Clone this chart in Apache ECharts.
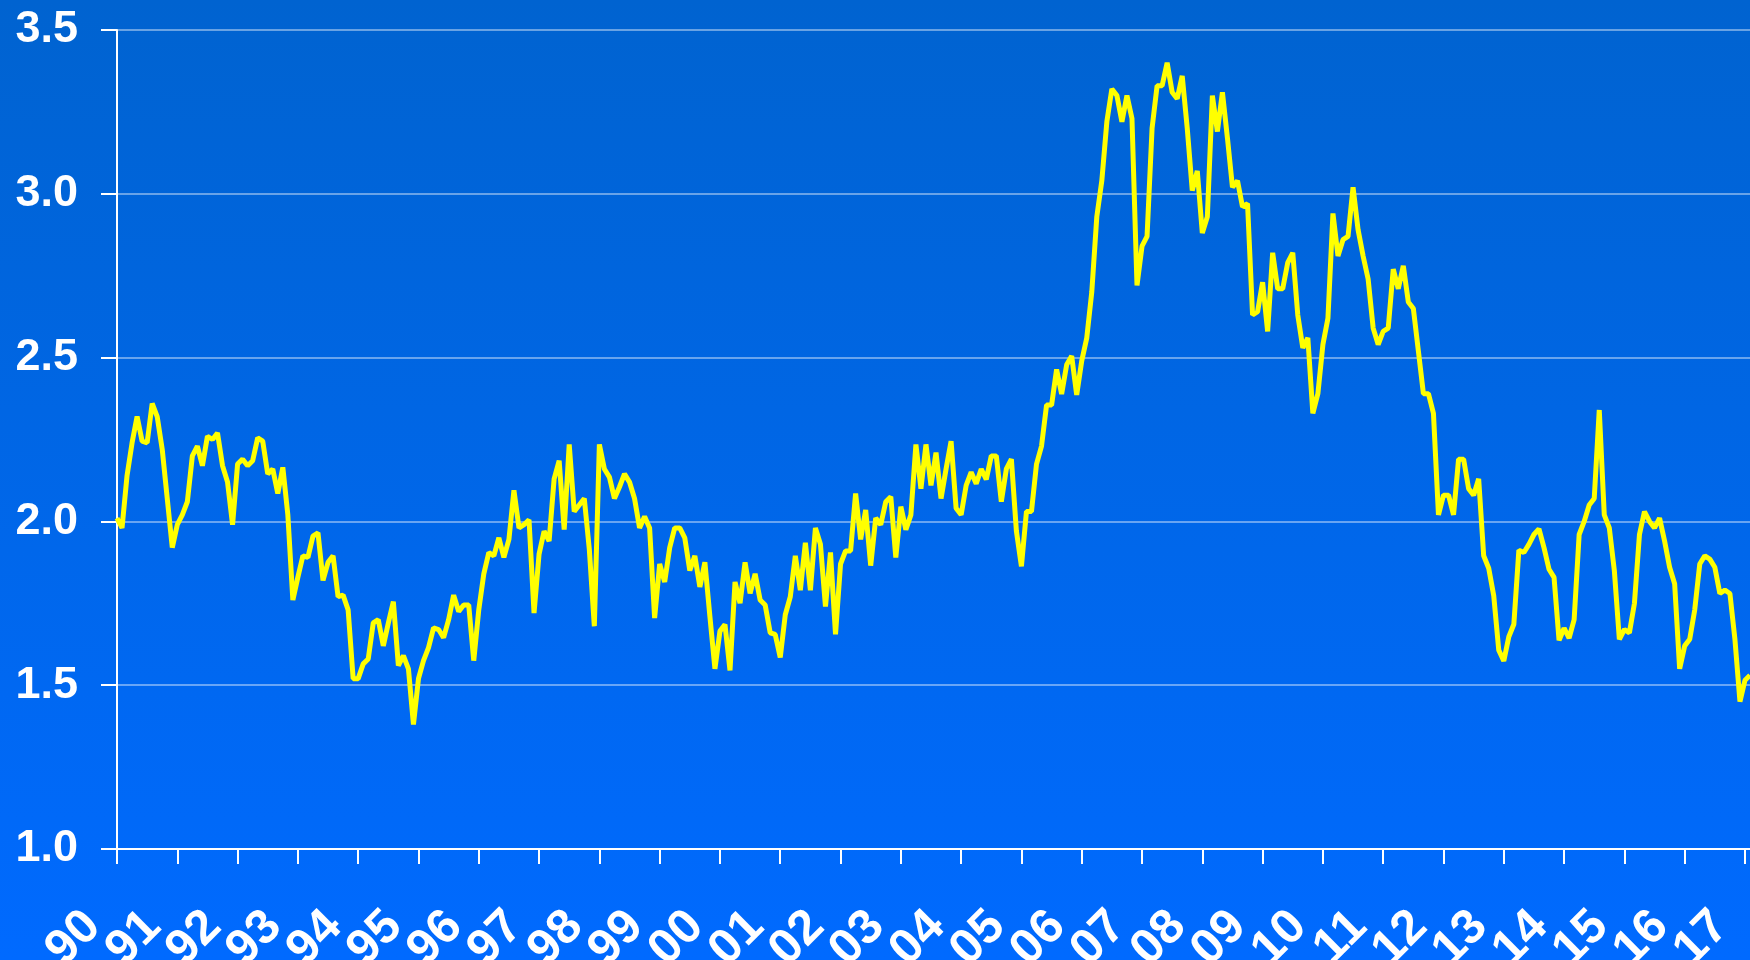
<!DOCTYPE html>
<html>
<head>
<meta charset="utf-8">
<script src="https://cdn.jsdelivr.net/npm/echarts@6/dist/echarts.min.js"></script>
<style>
html,body{margin:0;padding:0;width:1750px;height:960px;overflow:hidden;}
#chart{width:1750px;height:960px;}
</style>
</head>
<body>
<div id="chart"></div>
<script>
// Year tick labels (one per January)
const yearLabels = ['90','91','92','93','94','95','96','97','98','99','00','01','02','03','04','05','06','07','08','09','10','11','12','13','14','15','16','17'];

// Monthly values, Jan 1990 onwards
const values1990s = [
  2.01, 1.98, 2.14, 2.24, 2.32, 2.245, 2.24, 2.36, 2.32, 2.22, 2.07, 1.92,
  1.99, 2.02, 2.06, 2.20, 2.23, 2.17, 2.26, 2.25, 2.27, 2.17, 2.12, 1.99,
  2.175, 2.19, 2.17, 2.185, 2.255, 2.245, 2.145, 2.16, 2.085, 2.165, 2.02, 1.76,
  1.83, 1.895, 1.89, 1.955, 1.965, 1.82, 1.875, 1.895, 1.77, 1.775, 1.73, 1.52,
  1.52, 1.565, 1.58, 1.69, 1.70, 1.62, 1.69, 1.755, 1.56, 1.59, 1.55, 1.38,
  1.52, 1.575, 1.615, 1.675, 1.67, 1.645, 1.70, 1.775, 1.725, 1.745, 1.745, 1.575,
  1.73, 1.84, 1.905, 1.895, 1.95, 1.89, 1.945, 2.095, 1.98, 1.99, 2.005, 1.72,
  1.90, 1.97, 1.94, 2.13, 2.185, 1.975, 2.235, 2.03, 2.05, 2.07, 1.915, 1.68,
  2.235, 2.16, 2.135, 2.07, 2.105, 2.145, 2.12, 2.07, 1.98, 2.015, 1.98, 1.705,
  1.87, 1.815, 1.92, 1.98, 1.98, 1.95, 1.85, 1.895, 1.80, 1.875, 1.71, 1.55
];
const values2000s = [
  1.665, 1.685, 1.545, 1.815, 1.75, 1.875, 1.78, 1.84, 1.76, 1.745, 1.66, 1.655,
  1.585, 1.715, 1.77, 1.895, 1.79, 1.935, 1.79, 1.98, 1.93, 1.74, 1.905, 1.655,
  1.87, 1.91, 1.91, 2.085, 1.945, 2.035, 1.865, 2.01, 1.99, 2.06, 2.075, 1.89,
  2.045, 1.975, 2.02, 2.235, 2.10, 2.235, 2.11, 2.21, 2.07, 2.16, 2.245, 2.04,
  2.02, 2.11, 2.15, 2.115, 2.16, 2.128, 2.20, 2.20, 2.06, 2.16, 2.19, 1.97,
  1.863, 2.03, 2.03, 2.175, 2.23, 2.355, 2.355, 2.464, 2.389, 2.478, 2.505, 2.386,
  2.49, 2.56, 2.70, 2.93, 3.04, 3.22, 3.32, 3.30, 3.22, 3.30, 3.23, 2.72,
  2.84, 2.87, 3.20, 3.33, 3.33, 3.40, 3.31, 3.29, 3.36, 3.20, 3.01, 3.07,
  2.88, 2.93, 3.30, 3.19, 3.31, 3.17, 3.02, 3.04, 2.96, 2.97, 2.63, 2.64,
  2.73, 2.58, 2.82, 2.71, 2.71, 2.79, 2.82, 2.63, 2.53, 2.56, 2.33, 2.39
];
const values2010s = [
  2.54, 2.62, 2.94, 2.81, 2.86, 2.87, 3.02, 2.89, 2.81, 2.74, 2.59, 2.54,
  2.58, 2.59, 2.77, 2.71, 2.78, 2.67, 2.65, 2.52, 2.39, 2.39, 2.33, 2.02,
  2.08, 2.08, 2.02, 2.19, 2.19, 2.10, 2.08, 2.13, 1.895, 1.857, 1.773, 1.607,
  1.574, 1.648, 1.686, 1.912, 1.905, 1.93, 1.96, 1.977, 1.92, 1.854, 1.829, 1.637,
  1.674, 1.644, 1.70, 1.96, 2.00, 2.05, 2.07, 2.34, 2.02, 1.98, 1.85, 1.64,
  1.67, 1.66, 1.75, 1.96, 2.03, 2.00, 1.98, 2.01, 1.94, 1.86, 1.81, 1.55,
  1.62, 1.64, 1.73, 1.87, 1.895, 1.885, 1.86, 1.78, 1.79, 1.78, 1.64, 1.45,
  1.515, 1.53
];

const values = values1990s.concat(values2000s, values2010s);
const categories = values.map((v, i) => (1990 + Math.floor(i / 12)) + '-' + String(i % 12 + 1).padStart(2, '0'));
const lastYearIdx = (yearLabels.length - 1) * 12;

const chart = echarts.init(document.getElementById('chart'));
const FONT = '"Liberation Sans", Arial, sans-serif';
chart.setOption({
  animation: false,
  backgroundColor: {
    type: 'linear', x: 0, y: 0, x2: 0, y2: 1,
    colorStops: [{offset: 0, color: '#0063D0'}, {offset: 1, color: '#006AFF'}]
  },
  grid: {left: 117, right: 0, top: 30, bottom: 111, containLabel: false, outerBoundsMode: 'none'},
  xAxis: {
    type: 'category',
    data: categories,
    boundaryGap: false,
    axisLine: {show: true, lineStyle: {color: '#ffffff', width: 2}},
    axisTick: {show: true, length: 15, inside: false, interval: (i) => i % 12 === 0, lineStyle: {color: '#ffffff', width: 2}},
    axisLabel: {
      show: true,
      // helper blank labels at index 1 and lastYearIdx-1 absorb the min/max overlap handling
      interval: (i) => i % 12 === 0 || i === 1 || i === lastYearIdx - 1,
      showMinLabel: true,
      showMaxLabel: true,
      hideOverlap: false,
      formatter: (val, i) => (i % 12 === 0 ? yearLabels[i / 12] : ' '),
      rotate: 45,
      margin: 46,
      padding: [0, 34, 0, 0],
      color: '#ffffff',
      fontSize: 49,
      fontWeight: 'bold',
      fontFamily: FONT
    },
    splitLine: {show: false}
  },
  yAxis: {
    type: 'value',
    min: 1.0,
    max: 3.5,
    interval: 0.5,
    axisLine: {show: true, lineStyle: {color: '#ffffff', width: 2}},
    axisTick: {show: true, length: 16, inside: false, lineStyle: {color: '#ffffff', width: 2}},
    axisLabel: {
      formatter: (v) => v.toFixed(1),
      margin: 39,
      color: '#ffffff',
      fontSize: 45,
      fontWeight: 'bold',
      fontFamily: FONT
    },
    splitLine: {show: true, lineStyle: {color: 'rgba(255,255,255,0.55)', width: 1.5}}
  },
  series: [{
    type: 'line',
    data: values,
    showSymbol: false,
    symbol: 'none',
    lineStyle: {color: '#FFFF00', width: 5, join: 'bevel'},
    z: 5
  }]
});
</script>
</body>
</html>
